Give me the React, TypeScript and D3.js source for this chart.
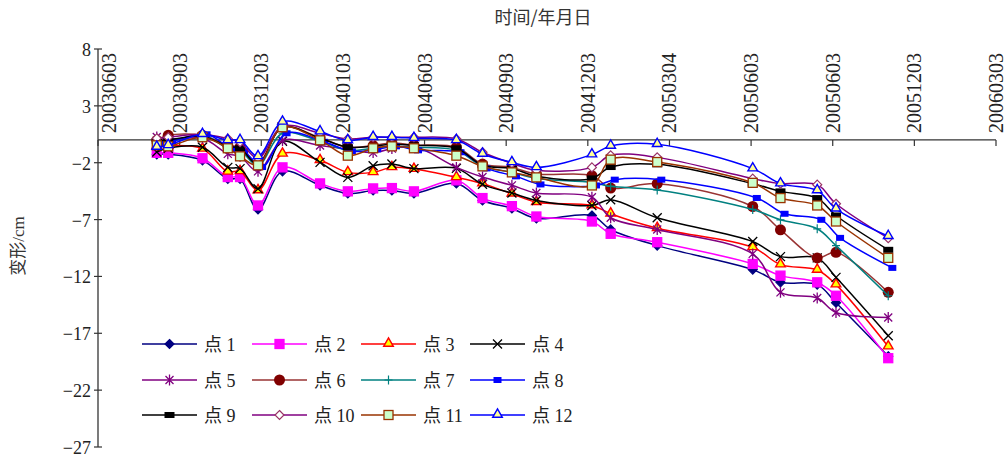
import React from 'react';
import * as d3 from 'd3';

// Axis labels
const xTickLabels = [
  '20030603', '20030903', '20031203', '20040103', '20040603', '20040903',
  '20041203', '20050304', '20050603', '20050603', '20051203', '20060303',
];
const yTickValues = [8, 3, -2, -7, -12, -17, -22, -27];

// Observation times, in axis-period units (one unit per labelled tick)
const times = [
  0.72, 0.86, 1.28, 1.59, 1.74, 1.96, 2.26, 2.72, 3.06, 3.37, 3.6, 3.87,
  4.39, 4.71, 5.07, 5.37, 6.05, 6.28, 6.85, 8.02, 8.36, 8.81, 9.04, 9.68,
];
// Point 8 was surveyed slightly later on each round
const times8 = [
  0.77, 0.91, 1.33, 1.64, 1.79, 2.01, 2.31, 2.77, 3.11, 3.42, 3.65, 3.92,
  4.44, 4.76, 5.12, 5.42, 6.1, 6.33, 6.9, 8.07, 8.41, 8.86, 9.09, 9.73,
];

// Deformation (cm) of each monitoring point
const p1 = [-1.26, -1.26, -1.79, -3.42, -3.42, -6.11, -2.76, -3.99, -4.7, -4.44, -4.44, -4.7, -3.82, -5.32, -6.02, -6.9, -6.64, -7.87, -9.29, -11.4, -12.52, -12.72, -14.31, -19.02];
const p2 = [-1.13, -1.13, -1.61, -3.26, -3.26, -5.76, -2.41, -3.82, -4.52, -4.26, -4.23, -4.52, -3.55, -5.11, -5.82, -6.73, -7.17, -8.25, -8.99, -10.9, -11.93, -12.52, -13.7, -19.19];
const p3 = [-0.55, -0.5, -0.78, -2.8, -2.76, -4.44, -1.22, -1.79, -2.85, -2.85, -2.41, -2.56, -3.29, -3.84, -4.73, -5.47, -5.76, -6.49, -7.76, -9.44, -10.96, -11.43, -12.72, -18.17];
const p4 = [-1.06, -0.73, -0.64, -2.41, -2.52, -4.29, -0.11, -1.97, -3.29, -2.26, -2.12, -2.52, -2.5, -3.9, -4.67, -5.32, -5.76, -5.26, -6.84, -8.93, -10.26, -10.37, -12.08, -17.22];
const p5 = [0.26, 0.0, 0.15, -1.22, -1.44, -2.76, -0.05, -0.49, -0.82, -1.11, -0.76, -0.56, -2.41, -3.26, -3.99, -4.67, -5.03, -6.84, -7.87, -10.02, -13.4, -13.9, -15.17, -15.61];
const p6 = [-0.03, 0.41, 0.41, -0.47, -0.64, -2.05, 1.12, 0.19, -0.64, -0.49, -0.26, -0.44, -0.64, -2.12, -2.41, -3.0, -3.14, -4.23, -3.84, -5.85, -7.9, -10.37, -9.88, -13.4];
const p7 = [-0.29, -0.2, 0.41, -0.73, -0.91, -2.23, 0.59, -0.11, -0.91, -0.73, -0.56, -0.64, -0.91, -2.32, -2.85, -3.38, -3.73, -4.08, -4.39, -6.11, -7.02, -7.81, -9.29, -13.7];
const p8 = [-0.29, -0.1, 0.5, -0.82, -1.0, -2.38, 0.59, -0.16, -1.0, -0.82, -0.56, -0.91, -1.08, -2.5, -3.2, -3.91, -4.0, -3.49, -3.49, -5.1, -6.49, -7.02, -8.61, -11.25];
const p9 = [-0.1, 0.0, 0.33, -0.56, -0.73, -2.14, 1.12, 0.15, -0.64, -0.56, -0.38, -0.47, -0.73, -2.23, -2.5, -3.2, -3.38, -2.38, -2.14, -3.84, -4.52, -5.11, -6.64, -9.66];
const p10 = [0.15, 0.24, 0.5, 0.11, -0.2, -1.61, 1.21, 0.59, 0.09, 0.24, 0.24, 0.24, 0.09, -1.08, -2.05, -2.67, -2.41, -1.35, -1.53, -3.4, -3.84, -3.93, -5.61, -8.64];
const p11 = [-0.47, -0.56, 0.24, -0.73, -1.44, -2.23, 1.12, -0.03, -1.38, -0.73, -0.56, -0.73, -1.38, -2.32, -2.85, -3.29, -4.0, -1.73, -1.94, -3.77, -5.11, -5.76, -7.17, -10.37];
const p12 = [-0.62, -0.47, 0.5, -0.03, -0.03, -1.44, 1.59, 0.74, -0.05, 0.24, 0.24, 0.15, -0.03, -1.23, -1.97, -2.41, -1.29, -0.53, -0.38, -2.52, -3.84, -4.44, -6.05, -8.47];

const seriesNames = ['点 1', '点 2', '点 3', '点 4', '点 5', '点 6', '点 7', '点 8', '点 9', '点 10', '点 11', '点 12'];
const seriesValues = [p1, p2, p3, p4, p5, p6, p7, p8, p9, p10, p11, p12];
const seriesTimes = [times, times, times, times, times, times, times, times8, times, times, times, times];

type Shape = 'diamond' | 'square' | 'triangle' | 'x' | 'star' | 'circle' | 'plus' | 'rect' | 'wideRect';
interface Style { line: string; shape: Shape; fill: string; stroke: string; }

const styles: Style[] = [
  { line: '#000080', shape: 'diamond', fill: '#000080', stroke: '#000080' },
  { line: '#FF00FF', shape: 'square', fill: '#FF00FF', stroke: '#FF00FF' },
  { line: '#FF0000', shape: 'triangle', fill: '#FFFF00', stroke: '#FF0000' },
  { line: '#000000', shape: 'x', fill: 'none', stroke: '#000000' },
  { line: '#800080', shape: 'star', fill: 'none', stroke: '#800080' },
  { line: '#993333', shape: 'circle', fill: '#800000', stroke: '#800000' },
  { line: '#008080', shape: 'plus', fill: 'none', stroke: '#008080' },
  { line: '#0000FF', shape: 'rect', fill: '#0000FF', stroke: '#0000FF' },
  { line: '#000000', shape: 'wideRect', fill: '#000000', stroke: '#000000' },
  { line: '#800080', shape: 'diamond', fill: '#FFFFFF', stroke: '#993366' },
  { line: '#993300', shape: 'square', fill: '#CCFFCC', stroke: '#993300' },
  { line: '#0000FF', shape: 'triangle', fill: '#FFFF99', stroke: '#0000FF' },
];

const W = 1006;
const H = 459;
const PLOT = { left: 98, right: 996, top: 49, bottom: 447 };

const x = d3.scaleLinear().domain([0, 11]).range([PLOT.left, PLOT.right]);
const y = d3.scaleLinear().domain([-27, 8]).range([PLOT.bottom, PLOT.top]);

const trianglePath = d3.symbol(d3.symbolTriangle, 40)() as string;

function Marker({ cx, cy, s }: { cx: number; cy: number; s: Style }) {
  const t = `translate(${cx},${cy})`;
  switch (s.shape) {
    case 'diamond':
      return <path transform={t} d="M0,-4.5L4.5,0L0,4.5L-4.5,0Z" fill={s.fill} stroke={s.stroke} strokeWidth={1.2} />;
    case 'triangle':
      return <path transform={`translate(${cx},${cy - 0.5})`} d={trianglePath} fill={s.fill} stroke={s.stroke} strokeWidth={1.4} />;
    case 'square':
      return <rect x={cx - 4.5} y={cy - 4.5} width={9} height={9} fill={s.fill} stroke={s.stroke} strokeWidth={1.3} />;
    case 'rect':
      return <rect x={cx - 4} y={cy - 3} width={8} height={6} fill={s.fill} />;
    case 'wideRect':
      return <rect x={cx - 5} y={cy - 3} width={10} height={6} fill={s.fill} />;
    case 'circle':
      return <circle cx={cx} cy={cy} r={5.5} fill={s.fill} />;
    case 'x':
      return <path transform={t} d="M-4.5,-4.5L4.5,4.5M-4.5,4.5L4.5,-4.5" stroke={s.stroke} strokeWidth={1.3} fill="none" />;
    case 'star':
      return <path transform={t} d="M-4,-4L4,4M-4,4L4,-4M0,-5.5L0,5.5" stroke={s.stroke} strokeWidth={1.3} fill="none" />;
    case 'plus':
      return <path transform={t} d="M-4,0L4,0M0,-4.5L0,4.5" stroke={s.stroke} strokeWidth={1.2} fill="none" />;
    default:
      return null;
  }
}

const lineGen = d3
  .line<[number, number]>()
  .x((d) => x(d[0]))
  .y((d) => y(d[1]))
  .curve(d3.curveCatmullRom.alpha(0.5));

const serif = "'Liberation Serif', 'Times New Roman', 'Noto Sans CJK SC', serif";
const textColor = '#222';

const legendColX = [142, 252, 361, 470];
const legendRowY = [344, 380, 415];

export default function App() {
  return (
    <svg width={W} height={H} style={{ position: 'absolute', left: 0, top: 0, background: '#fff' }}>
      <rect width={W} height={H} fill="#fff" />

      {/* title */}
      <text x={543} y={24} textAnchor="middle" fontFamily="'Noto Sans CJK SC', sans-serif" fontSize={18} fill="#333">
        时间/年月日
      </text>

      {/* y axis title */}
      <text
        transform="translate(24,246) rotate(-90)"
        textAnchor="middle"
        fontFamily={serif}
        fontSize={17}
        fill="#333"
      >
        变形/cm
      </text>

      {/* y axis */}
      <line x1={PLOT.left} x2={PLOT.left} y1={y(8)} y2={y(-27)} stroke="#333" strokeWidth={1.3} />
      {yTickValues.map((v) => (
        <g key={v}>
          <line x1={PLOT.left - 4} x2={PLOT.left + 4} y1={y(v)} y2={y(v)} stroke="#333" strokeWidth={1.2} />
          <text x={PLOT.left - 7} y={y(v) + 7} textAnchor="end" fontFamily={serif} fontSize={18} fill={textColor}>
            {v < 0 ? `\u2212${Math.abs(v)}` : v}
          </text>
        </g>
      ))}

      {/* x axis at zero */}
      <line x1={PLOT.left} x2={PLOT.right} y1={y(0)} y2={y(0)} stroke="#333" strokeWidth={1.3} />
      {xTickLabels.map((lab, i) => (
        <g key={i}>
          <line x1={x(i)} x2={x(i)} y1={y(0)} y2={y(0) + 6} stroke="#333" strokeWidth={1.2} />
          <text
            transform={`translate(${x(i) + (i === 0 ? 11 : 0)},${y(0) - 7}) rotate(-90)`}
            dy="0.35em"
            fontFamily={serif}
            fontSize={20}
            fill={textColor}
          >
            {lab}
          </text>
        </g>
      ))}

      {/* series */}
      {seriesValues.map((vals, si) => {
        const s = styles[si];
        const ts = seriesTimes[si];
        const pts = vals.map((v, i) => [ts[i], v] as [number, number]);
        return (
          <g key={si}>
            <path d={lineGen(pts) as string} fill="none" stroke={s.line} strokeWidth={1.5} />
            {pts.map((p, i) => (
              <Marker key={i} cx={x(p[0])} cy={y(p[1])} s={s} />
            ))}
          </g>
        );
      })}

      {/* legend */}
      {seriesNames.map((name, i) => {
        const s = styles[i];
        const lx = legendColX[i % 4];
        const ly = legendRowY[Math.floor(i / 4)];
        return (
          <g key={name}>
            <line x1={lx} x2={lx + 55} y1={ly} y2={ly} stroke={s.line} strokeWidth={1.5} />
            <Marker cx={lx + 27.5} cy={ly} s={s} />
            <text x={lx + 62} y={ly + 7} fontFamily={serif} fontSize={18} fill={textColor}>
              {name}
            </text>
          </g>
        );
      })}
    </svg>
  );
}
